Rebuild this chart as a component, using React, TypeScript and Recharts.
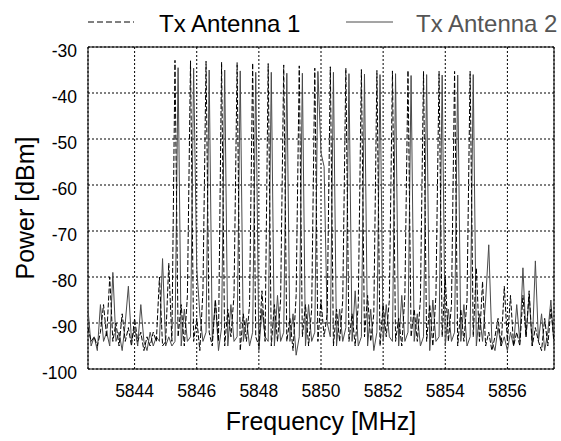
import { LineChart, Line, XAxis, YAxis, CartesianGrid, ReferenceArea } from "recharts";

// frequency grid [MHz]
const freqs = [
  5842.5, 5842.6, 5842.7, 5842.8, 5842.9, 5843.0, 5843.1, 5843.2, 5843.3, 5843.4,
  5843.5, 5843.6, 5843.7, 5843.8, 5843.9, 5844.0, 5844.1, 5844.2, 5844.3, 5844.4,
  5844.5, 5844.6, 5844.7, 5844.8, 5844.9, 5845.0, 5845.1, 5845.2, 5845.3, 5845.4,
  5845.5, 5845.6, 5845.7, 5845.8, 5845.9, 5846.0, 5846.1, 5846.2, 5846.3, 5846.4,
  5846.5, 5846.6, 5846.7, 5846.8, 5846.9, 5847.0, 5847.1, 5847.2, 5847.3, 5847.4,
  5847.5, 5847.6, 5847.7, 5847.8, 5847.9, 5848.0, 5848.1, 5848.2, 5848.3, 5848.4,
  5848.5, 5848.6, 5848.7, 5848.8, 5848.9, 5849.0, 5849.1, 5849.2, 5849.3, 5849.4,
  5849.5, 5849.6, 5849.7, 5849.8, 5849.9, 5850.0, 5850.1, 5850.2, 5850.3, 5850.4,
  5850.5, 5850.6, 5850.7, 5850.8, 5850.9, 5851.0, 5851.1, 5851.2, 5851.3, 5851.4,
  5851.5, 5851.6, 5851.7, 5851.8, 5851.9, 5852.0, 5852.1, 5852.2, 5852.3, 5852.4,
  5852.5, 5852.6, 5852.7, 5852.8, 5852.9, 5853.0, 5853.1, 5853.2, 5853.3, 5853.4,
  5853.5, 5853.6, 5853.7, 5853.8, 5853.9, 5854.0, 5854.1, 5854.2, 5854.3, 5854.4,
  5854.5, 5854.6, 5854.7, 5854.8, 5854.9, 5855.0, 5855.1, 5855.2, 5855.3, 5855.4,
  5855.5, 5855.6, 5855.7, 5855.8, 5855.9, 5856.0, 5856.1, 5856.2, 5856.3, 5856.4,
  5856.5, 5856.6, 5856.7, 5856.8, 5856.9, 5857.0, 5857.1, 5857.2, 5857.3, 5857.4,
  5857.5,
];

// Tx Antenna 1 power [dBm]
const ant1 = [
  -91, -94, -93, -95, -92, -86, -93, -80, -94, -90,
  -95, -88, -94, -91, -95, -89, -94, -92, -96, -93,
  -95, -92, -94, -80, -95, -94, -77, -94, -32.9, -93,
  -86, -95, -84, -33.0, -94, -89, -96, -83, -33.1, -92,
  -95, -85, -94, -33.3, -95, -87, -93, -84, -33.4, -96,
  -88, -94, -86, -33.5, -93, -95, -83, -94, -33.6, -95,
  -86, -94, -85, -33.9, -94, -89, -96, -84, -34.1, -93,
  -86, -95, -87, -34.6, -94, -85, -93, -88, -34.3, -95,
  -87, -94, -85, -34.6, -94, -88, -95, -86, -34.9, -93,
  -84, -94, -88, -35.1, -95, -86, -93, -85, -35.2, -94,
  -89, -95, -84, -35.1, -93, -87, -94, -85, -35.3, -94,
  -86, -95, -84, -35.3, -93, -80, -94, -86, -35.3, -95,
  -87, -94, -85, -35.3, -93, -78, -94, -81, -95, -92,
  -96, -93, -89, -95, -82, -94, -84, -95, -92, -95,
  -84, -93, -83, -95, -91, -94, -96, -89, -95, -87,
  -94,
];

// Tx Antenna 2 power [dBm]
const ant2 = [
  -87, -95, -93, -96, -86, -94, -92, -95, -79, -94,
  -92, -96, -90, -82, -94, -91, -95, -86, -94, -96,
  -92, -95, -93, -94, -76, -95, -93, -95, -94, -34.5,
  -95, -87, -94, -93, -34.6, -78, -88, -94, -92, -35.0,
  -94, -85, -96, -91, -35.0, -95, -86, -94, -93, -35.2,
  -94, -89, -95, -92, -35.5, -96, -87, -93, -94, -35.5,
  -95, -84, -94, -92, -35.7, -94, -88, -97, -93, -35.7,
  -95, -86, -94, -92, -35.3, -53, -56, -90, -93, -35.5,
  -95, -87, -94, -91, -35.8, -94, -83, -95, -93, -35.9,
  -95, -87, -96, -92, -36.0, -94, -86, -93, -94, -35.8,
  -95, -84, -94, -92, -36.2, -94, -88, -95, -93, -36.0,
  -96, -85, -94, -93, -36.1, -95, -87, -94, -92, -36.1,
  -94, -86, -95, -93, -36.0, -95, -88, -94, -85, -73,
  -94, -96, -91, -95, -93, -96, -92, -95, -86, -94,
  -78, -93, -84, -95, -76.5, -94, -88, -96, -92, -85,
  -95,
];

const xTicks = [5844, 5846, 5848, 5850, 5852, 5854, 5856];
const yTicks = [-100, -90, -80, -70, -60, -50, -40, -30];

const FONT = "'Liberation Sans', Arial, Helvetica, sans-serif";

const data = freqs.map((f, i) => ({ f, a1: ant1[i], a2: ant2[i] }));

function XTick(props: any) {
  const { x, y, payload } = props;
  return (
    <text x={x} y={y + 27.5} textAnchor="middle" fontSize={17.5} fontFamily={FONT} fill="#000">
      {payload.value}
    </text>
  );
}

function YTick(props: any) {
  const { x, y, payload } = props;
  return (
    <text x={x - 11} y={y + 9.5} textAnchor="end" fontSize={17.5} fontFamily={FONT} fill="#000">
      {payload.value}
    </text>
  );
}

export default function App() {
  return (
    <div style={{ position: "absolute", left: 0, top: 0, width: 561, height: 441, background: "#fff" }}>
      <LineChart width={561} height={441} data={data} margin={{ top: 47, right: 7, bottom: 0, left: 0 }}>
        <CartesianGrid stroke="#000" strokeDasharray="2 2" strokeWidth={1} />
        <XAxis
          dataKey="f"
          type="number"
          domain={[5842.5, 5857.5]}
          ticks={xTicks}
          height={72}
          tickLine={false}
          axisLine={false}
          tickSize={0}
          tickMargin={0}
          tick={<XTick />}
          allowDataOverflow
        />
        <YAxis
          type="number"
          domain={[-100, -30]}
          ticks={yTicks}
          width={88}
          tickLine={false}
          axisLine={false}
          tickSize={0}
          tickMargin={0}
          tick={<YTick />}
          allowDataOverflow
        />
        <Line
          type="linear"
          dataKey="a2"
          stroke="#4a4a4a"
          strokeWidth={1}
          dot={false}
          isAnimationActive={false}
        />
        <Line
          type="linear"
          dataKey="a1"
          stroke="#000"
          strokeWidth={1}
          strokeDasharray="5 2"
          dot={false}
          isAnimationActive={false}
        />
        <ReferenceArea x1={5842.5} x2={5857.5} y1={-100} y2={-30} fill="none" stroke="#000" strokeWidth={1} />
      </LineChart>

      {/* legend and axis titles */}
      <svg width={561} height={441} style={{ position: "absolute", left: 0, top: 0, pointerEvents: "none" }}>
        <line x1={88} x2={134} y1={22} y2={22} stroke="#000" strokeWidth={1} strokeDasharray="6 3" />
        <text x={159} y={32} fontSize={24} fontFamily={FONT} fill="#000">Tx Antenna 1</text>
        <line x1={346} x2={393} y1={22} y2={22} stroke="#4a4a4a" strokeWidth={1} />
        <text x={416} y={32} fontSize={24} fontFamily={FONT} fill="#555">Tx Antenna 2</text>
        <text x={321} y={430} textAnchor="middle" fontSize={25} fontFamily={FONT} fill="#000">
          Frequency [MHz]
        </text>
        <text
          x={34}
          y={208}
          textAnchor="middle"
          fontSize={25}
          fontFamily={FONT}
          fill="#000"
          transform="rotate(-90, 34, 208)"
        >
          Power [dBm]
        </text>
      </svg>
    </div>
  );
}
